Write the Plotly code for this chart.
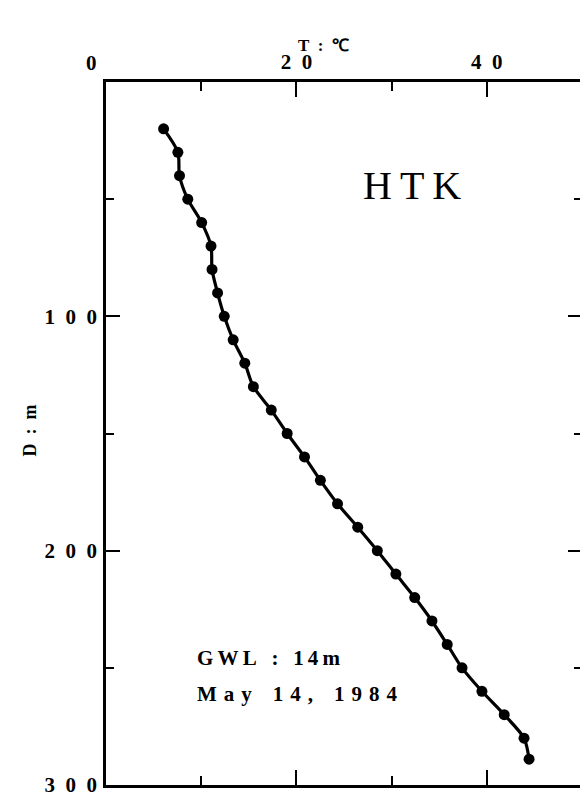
import plotly.graph_objects as go

# Data
depth_m = [20, 30, 40, 50, 60, 70, 80, 90, 100, 110, 120, 130, 140, 150, 160,
           170, 180, 190, 200, 210, 220, 230, 240, 250, 260, 270, 280, 289]
temp_c = [6.05, 7.55, 7.72, 8.59, 10.05, 11.03, 11.14, 11.72, 12.42, 13.36,
          14.58, 15.48, 17.36, 19.03, 20.85, 22.52, 24.32, 26.44, 28.5, 30.45,
          32.43, 34.24, 35.84, 37.4, 39.49, 41.83, 43.91, 44.44]

x_tickvals = [20, 40]
x_ticktext = ["2\u20020", "4\u20020"]
y_tickvals = [100, 200, 300]
y_ticktext = ["1\u20020\u20020", "2\u20020\u20020", "3\u20020\u20020"]

FONT = "Liberation Serif"
# page has an 8px body margin; plot area in page pixels: left 106, top 82, 479x703
OFF = 8
L, T, PW, PH = 106, 82, 479, 703


def px(xp):
    return (xp - L) / PW


def py(yp):
    return 1 - (yp - T) / PH


fig = go.Figure()
fig.add_trace(go.Scatter(
    x=temp_c, y=depth_m, mode="lines+markers",
    line=dict(color="black", width=3.2, shape="spline", smoothing=0.8),
    marker=dict(color="black", size=11),
    showlegend=False, hoverinfo="skip",
))

axis_common = dict(
    showline=True, linecolor="black", linewidth=2.5, mirror="ticks",
    showgrid=False, zeroline=False, ticks="inside", tickcolor="black",
    tickwidth=2,
)

fig.update_layout(
    width=580, height=794,
    margin=dict(l=L - OFF, r=3, t=T - OFF, b=17),
    paper_bgcolor="white", plot_bgcolor="white",
    font=dict(family=FONT, color="black"),
    xaxis=dict(
        range=[0, 50], side="top", tickvals=x_tickvals, ticktext=x_ticktext,
        ticklen=15, tickfont=dict(family=FONT, size=21, weight="bold"),
        ticklabelstandoff=2,
        minor=dict(tickvals=[10, 30], ticks="inside", ticklen=9, tickwidth=2,
                   tickcolor="black"),
        **axis_common,
    ),
    yaxis=dict(
        range=[300, 0], tickvals=y_tickvals, ticktext=y_ticktext,
        ticklen=14, tickfont=dict(family=FONT, size=21, weight="bold"),
        ticklabelstandoff=2,
        minor=dict(tickvals=[50, 150, 250], ticks="inside", ticklen=8,
                   tickwidth=2, tickcolor="black"),
        **axis_common,
    ),
)


def note(xp, yp, text, size, xanchor="center", **kw):
    fig.add_annotation(xref="paper", yref="paper", x=px(xp), y=py(yp),
                       xanchor=xanchor, yanchor="middle", text=text,
                       showarrow=False, font=dict(family=FONT, size=size), **kw)


# "0" label of the temperature axis
note(91, 63, "<b>0</b>", 21)
# Axis titles
note(325, 45, "<b>T\u2002:\u2002\u2103</b>", 17)
note(30, 430, "<b>D\u2002:\u2002m</b>", 18, textangle=-90)
# Labels inside the plot
note(414, 185, "H\u2009T\u2009K", 40)
note(196, 658, "<b>G\u2009W\u2009L\u2002\u2009:\u2002\u20091\u20094\u2009m</b>",
     21, xanchor="left")
note(196, 694,
     "<b>M\u2004a\u2004y\u2002\u20021\u20044\u2004,\u2002\u20021\u20049\u20048\u20044</b>",
     21, xanchor="left")

fig.write_html("out.html")
